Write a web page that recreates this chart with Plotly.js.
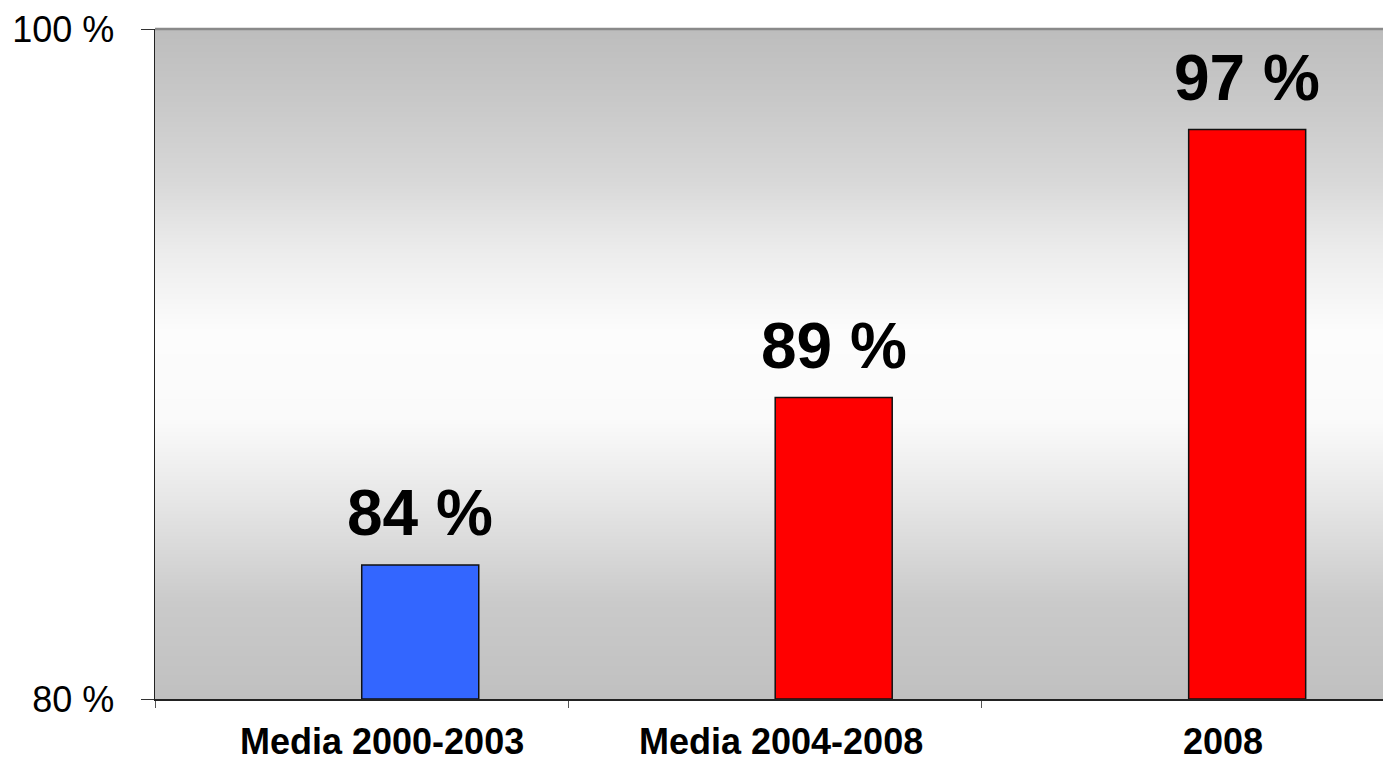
<!DOCTYPE html>
<html>
<head>
<meta charset="utf-8">
<script src="https://cdn.plot.ly/plotly-3.0.1.min.js"></script>
<style>
html, body { margin: 0; padding: 0; overflow: hidden; background: #fff; }
#chart { width: 1383px; height: 764px; }
</style>
</head>
<body>
<div id="chart"></div>
<script>
// Data
const categories = ['Media 2000-2003', 'Media 2004-2008', '2008'];
const values = [84, 89, 97];
const barColors = ['#3366ff', '#ff0000', '#ff0000'];
const yTickVals = [80, 100];
const yTickText = ['80 %', '100 %'];

// Background gradient stops (value on axis, gray level)
const bgY = [80, 82.9, 85.9, 88.3, 91, 93.4, 95.5, 97.9, 100];
const bgGray = [192, 202, 230, 250, 252, 236, 216, 200, 189];

// Layout helpers (positions, not data)
const idx = categories.map((c, i) => i);
const barWidth = 0.283;
const barCenters = idx.map(i => i + barWidth / 2);
const labelShift = [0.049, 0.015, 0.083];

const traces = [
  {
    type: 'heatmap',
    x: [-0.5, 2.6],
    y: bgY,
    z: bgGray.map(g => [g, g]),
    zmin: 180, zmax: 255,
    colorscale: [[0, 'rgb(180,180,180)'], [1, 'rgb(255,255,255)']],
    zsmooth: 'best',
    showscale: false,
    hoverinfo: 'skip'
  },
  {
    type: 'bar',
    x: idx,
    y: values.map(v => v - 80),
    base: 80,
    width: barWidth,
    offset: 0,
    marker: { color: barColors, line: { color: '#111', width: 1.5 } },
    hoverinfo: 'skip'
  }
];

const annotations = [];
values.forEach((v, i) => {
  annotations.push({
    x: barCenters[i], y: v, xref: 'x', yref: 'y',
    text: v + ' %', showarrow: false,
    yanchor: 'bottom', xanchor: 'center', yshift: 14,
    font: { family: 'Liberation Sans, Arial, sans-serif', size: 64, color: '#000', weight: 'bold' }
  });
});
categories.forEach((c, i) => {
  annotations.push({
    x: i + labelShift[i], y: 0, xref: 'x', yref: 'paper',
    text: '<b>' + c + '</b>', showarrow: false,
    yanchor: 'bottom', xanchor: 'center', yshift: -64,
    borderpad: 0,
    font: { family: 'Liberation Sans, Arial, sans-serif', size: 36, color: '#000' }
  });
});

const layout = {
  width: 1383, height: 764,
  margin: { l: 155, r: 0, t: 29, b: 65 },
  paper_bgcolor: '#ffffff',
  plot_bgcolor: '#ffffff',
  showlegend: false,
  xaxis: {
    range: [-0.5, 2.47],
    tickvals: [-0.5, 0.5, 1.5],
    ticktext: ['', '', ''],
    ticks: 'outside', ticklen: 7, tickcolor: '#555', tickwidth: 1,
    showgrid: false, zeroline: false,
    showline: true, linecolor: '#222', linewidth: 1.5,
    fixedrange: true
  },
  yaxis: {
    range: [80, 100],
    tickvals: yTickVals,
    ticktext: yTickText,
    ticks: 'outside', ticklen: 13, tickcolor: '#333', tickwidth: 1,
    ticklabelstandoff: 19,
    tickfont: { family: 'Liberation Sans, Arial, sans-serif', size: 36, color: '#000' },
    showgrid: false, zeroline: false,
    showline: true, linecolor: '#222', linewidth: 1.5,
    fixedrange: true
  },
  shapes: [
    { type: 'line', xref: 'paper', yref: 'paper', x0: 0, x1: 1, y0: 1, y1: 1,
      line: { color: '#8a8a8a', width: 2.5 } }
  ],
  annotations: annotations
};

Plotly.newPlot('chart', traces, layout, { staticPlot: true, displayModeBar: false });
</script>
</body>
</html>
